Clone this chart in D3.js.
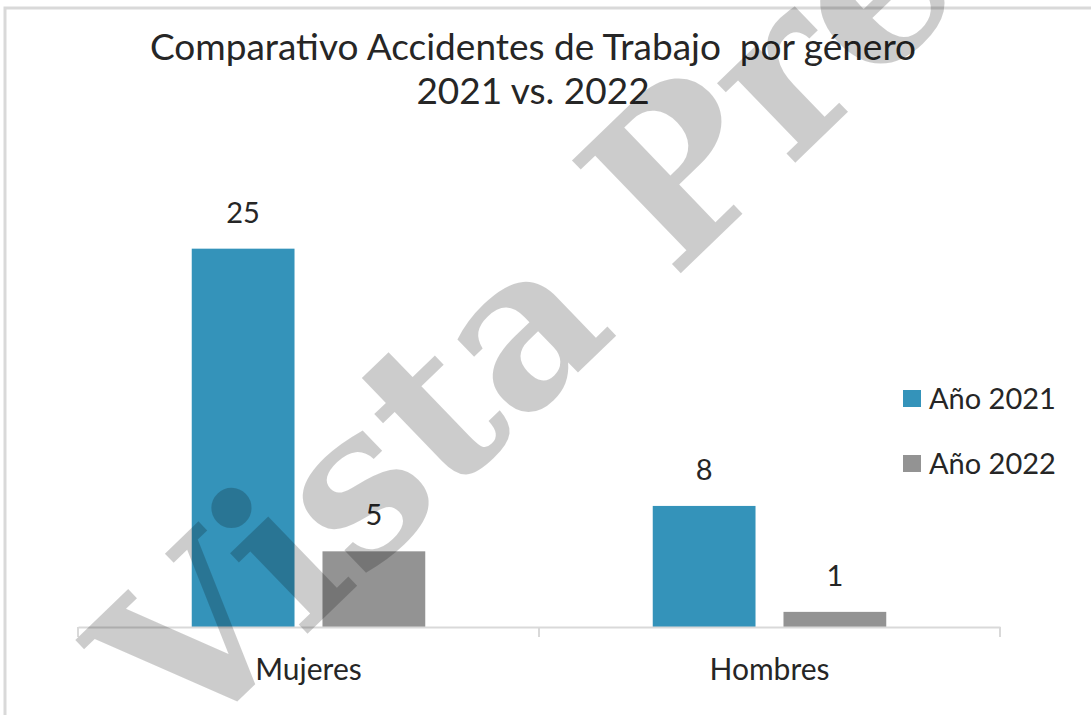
<!DOCTYPE html>
<html>
<head>
<meta charset="utf-8">
<script src="https://cdn.jsdelivr.net/npm/d3@7/dist/d3.min.js"></script>
<style>
  html, body { margin: 0; padding: 0; background: #fff; }
  svg { display: block; }
  text { font-family: Lato, "Open Sans", sans-serif; fill: #262626; }
</style>
</head>
<body>
<svg id="chart" width="1091" height="715"></svg>
<script>
// Accidentes de trabajo por género, 2021 vs. 2022
const categories = ["Mujeres", "Hombres"];
const seriesNames = ["Año 2021", "Año 2022"];
const values2021 = [25, 8];
const values2022 = [5, 1];
const seriesColors = ["#3493ba", "#939393"];
const titleLines = ["Comparativo Accidentes de Trabajo  por género", "2021 vs. 2022"];
const watermarkText = "Vista Previa";

const seriesValues = [values2021, values2022];
const rows = categories.map((c, i) => ({
  category: c,
  values: seriesNames.map((s, j) => ({ series: s, value: seriesValues[j][i] }))
}));

const svg = d3.select("#chart");
const W = 1091, H = 715;
const plot = { left: 78, right: 1000, top: 173, bottom: 627 };

// chart frame (only top and left edges fall inside the view)
svg.append("rect")
  .attr("x", 5).attr("y", 8)
  .attr("width", W + 20).attr("height", H + 20)
  .attr("fill", "#fff")
  .attr("stroke", "#d9d9d9").attr("stroke-width", 3);

// title
svg.append("g").selectAll("text")
  .data(titleLines)
  .join("text")
  .attr("x", 533)
  .attr("y", (d, i) => 60 + i * 44)
  .attr("text-anchor", "middle")
  .attr("font-size", 37)
  .style("white-space", "pre")
  .attr("xml:space", "preserve")
  .text(d => d);

const x0 = d3.scaleBand()
  .domain(categories)
  .range([plot.left, plot.right])
  .padding(0);

const x1 = d3.scaleBand()
  .domain(seriesNames)
  .range([0, x0.bandwidth()])
  .paddingInner(0.214)
  .paddingOuter(0.87);

const y = d3.scaleLinear()
  .domain([0, 30])
  .range([plot.bottom, plot.top]);

const color = d3.scaleOrdinal().domain(seriesNames).range(seriesColors);

// bars
const groups = svg.append("g").selectAll("g")
  .data(rows)
  .join("g")
  .attr("transform", d => `translate(${x0(d.category)},0)`);

groups.selectAll("rect")
  .data(d => d.values)
  .join("rect")
  .attr("x", d => x1(d.series))
  .attr("y", d => y(d.value))
  .attr("width", x1.bandwidth())
  .attr("height", d => y(0) - y(d.value))
  .attr("fill", d => color(d.series));

// value labels
groups.selectAll("text.val")
  .data(d => d.values)
  .join("text")
  .attr("class", "val")
  .attr("x", d => x1(d.series) + x1.bandwidth() / 2)
  .attr("y", d => y(d.value) - 26)
  .attr("text-anchor", "middle")
  .attr("font-size", 29)
  .text(d => d.value);

// category axis
const xAxis = d3.axisBottom(x0).tickSize(0).tickPadding(0);
const axisG = svg.append("g")
  .attr("transform", `translate(0,${plot.bottom})`)
  .call(xAxis);
axisG.select(".domain").attr("stroke", "#d9d9d9").attr("stroke-width", 2);
axisG.selectAll(".tick text")
  .attr("dy", 0)
  .attr("y", 53)
  .style("font-size", "30px")
  .style("font-family", "Lato, sans-serif")
  .style("fill", "#262626");

// tick marks at the band boundaries
const boundaries = [plot.left, ...categories.map(c => x0(c) + x0.bandwidth())];
axisG.selectAll("line.bound")
  .data(boundaries)
  .join("line")
  .attr("class", "bound")
  .attr("x1", d => d).attr("x2", d => d)
  .attr("y1", 0).attr("y2", 10)
  .attr("stroke", "#d9d9d9").attr("stroke-width", 2);

// legend
const legend = svg.append("g").attr("transform", "translate(903,390)");
const items = legend.selectAll("g")
  .data(seriesNames)
  .join("g")
  .attr("transform", (d, i) => `translate(0,${i * 65})`);
items.append("rect")
  .attr("width", 18).attr("height", 17)
  .attr("fill", d => color(d));
items.append("text")
  .attr("x", 26).attr("y", 19)
  .attr("font-size", 29)
  .text(d => d);

// watermark
svg.append("text")
  .attr("transform", "translate(185,752) rotate(-44)")
  .style("font-family", "'DejaVu Serif', 'Liberation Serif', serif")
  .style("font-weight", "bold")
  .style("font-size", "215px")
  .style("fill", "#000")
  .style("fill-opacity", 0.2)
  .text(watermarkText);
</script>
</body>
</html>
